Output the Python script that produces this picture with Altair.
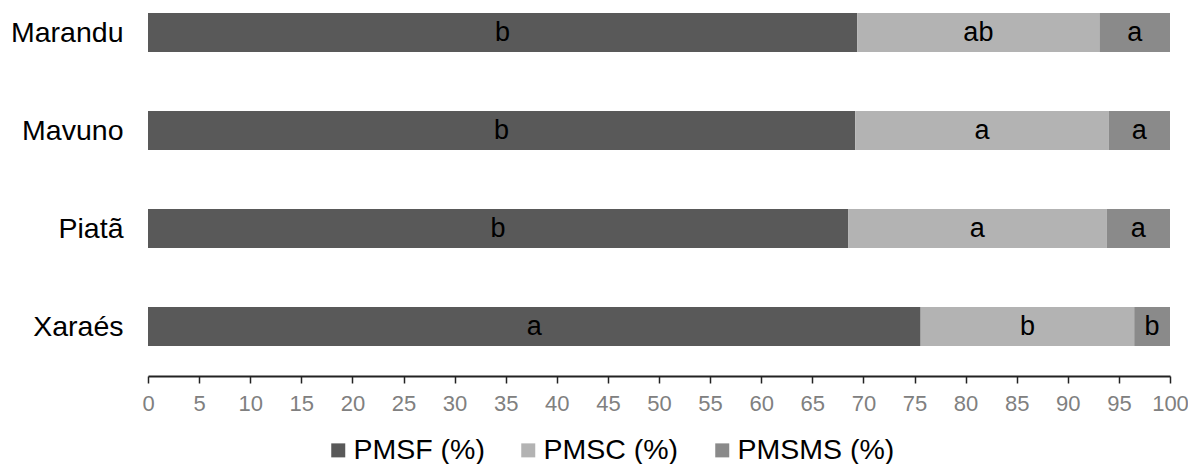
import altair as alt
import pandas as pd

cultivars = ["Marandu", "Mavuno", "Piatã", "Xaraés"]
series = ["PMSF (%)", "PMSC (%)", "PMSMS (%)"]
pmsf = [69.4, 69.2, 68.5, 75.6]
pmsc = [23.7, 24.8, 25.3, 20.9]
pmsms = [6.9, 6.0, 6.2, 3.5]
letters_pmsf = ["b", "b", "b", "a"]
letters_pmsc = ["ab", "a", "a", "b"]
letters_pmsms = ["a", "a", "a", "b"]
colors = ["#595959", "#b3b3b3", "#8a8a8a"]
x_ticks = list(range(0, 101, 5))

rows = []
for i, c in enumerate(cultivars):
    for j, (s, vals, labs) in enumerate(zip(series, [pmsf, pmsc, pmsms],
                                            [letters_pmsf, letters_pmsc, letters_pmsms])):
        rows.append({"cultivar": c, "series": s, "value": vals[i], "letter": labs[i], "ord": j})
df = pd.DataFrame(rows)

FONT = "Liberation Sans"

base = alt.Chart(df).transform_stack(
    stack="value", groupby=["cultivar"], as_=["x0", "x1"],
    sort=[alt.SortField("ord", order="ascending")]
).transform_calculate(mid="(datum.x0 + datum.x1) / 2")

yenc = alt.Y("cultivar:N", sort=cultivars, title=None,
             scale=alt.Scale(paddingInner=0.602, paddingOuter=0.051),
             axis=alt.Axis(ticks=False, domain=False, labelFontSize=28.5, labelColor="#000000",
                           labelPadding=25, labelFont=FONT))

xscale = alt.Scale(domain=[0, 100], nice=False)

bars = base.mark_bar().encode(
    x=alt.X("x0:Q", scale=xscale, title=None,
            axis=alt.Axis(values=x_ticks, grid=False, offset=25, domainColor="#222222",
                          domainWidth=2, tickColor="#222222", tickWidth=1.5, tickSize=7,
                          labelColor="#808080", labelFontSize=22, labelFont=FONT,
                          labelPadding=10, labelFlush=False, labelOverlap=False)),
    x2="x1:Q",
    y=yenc,
    color=alt.Color("series:N", scale=alt.Scale(domain=series, range=colors),
                    legend=alt.Legend(title=None, orient="none", legendX=176, legendY=428,
                                      direction="horizontal", symbolType="square",
                                      symbolSize=196, symbolStrokeWidth=0, symbolOpacity=1,
                                      labelFontSize=28.5, labelFont=FONT, labelColor="#000000",
                                      columnPadding=29, labelOffset=1, padding=0)),
)

text = base.mark_text(fontSize=27, font=FONT, color="#000000").encode(
    x=alt.X("mid:Q", scale=xscale),
    y=alt.Y("cultivar:N", sort=cultivars),
    text="letter:N",
)

chart = alt.layer(bars, text).properties(
    width=1022, height=343,
    autosize=alt.AutoSizeParams(type="none"),
    padding={"left": 140, "top": 0, "right": 18, "bottom": 113},
).configure_view(stroke=None)

chart.save("out.html", embed_options={"renderer": "svg", "actions": False})
